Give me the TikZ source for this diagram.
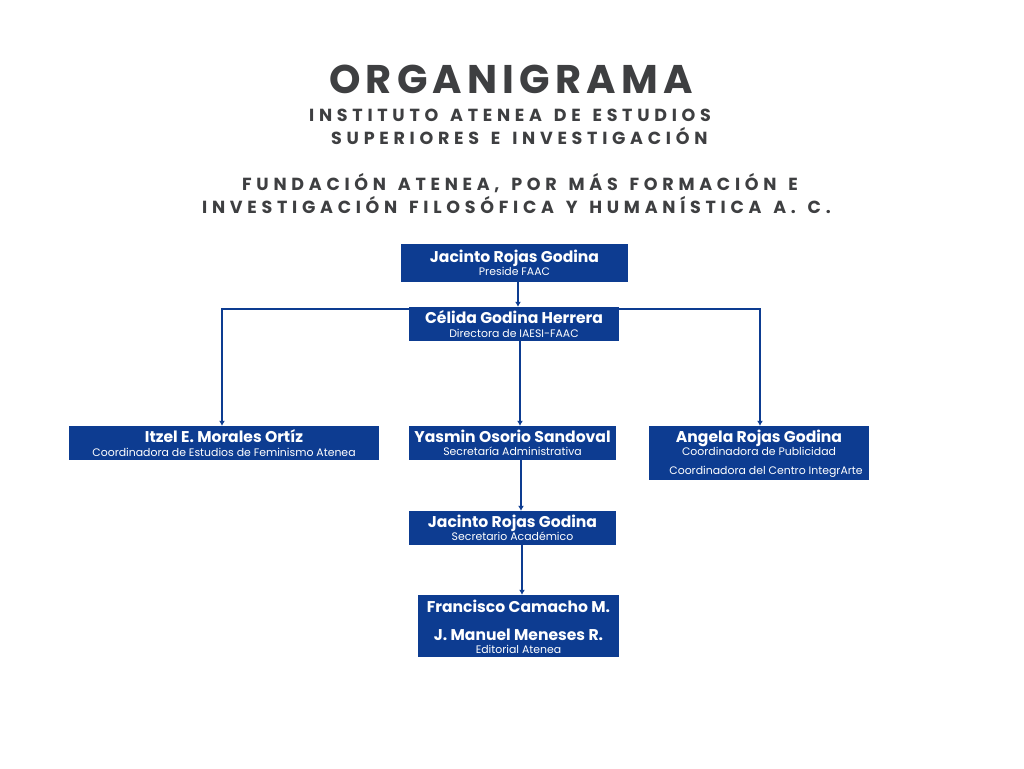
\documentclass[tikz,border=0pt]{standalone}
\usepackage{fontspec}
\setmainfont{Poppins}
\newfontfamily\titlefont[LetterSpace=13]{Poppins}
\newfontfamily\spacedfont[LetterSpace=27,WordSpace=1.4]{Poppins}
\usetikzlibrary{arrows.meta}
\definecolor{boxblue}{RGB}{13,60,145}
\definecolor{titlegray}{RGB}{62,63,65}
\tikzset{
  box/.style={fill=boxblue, draw=none, inner sep=0pt},
  pname/.style={anchor=base, text=white, font=\bfseries\fontsize{15.6}{17}\selectfont, inner sep=0pt},
  prole/.style={anchor=base, text=white, font=\fontsize{10.9}{12}\selectfont, inner sep=0pt},
  head/.style={anchor=base west, text=titlegray, inner sep=0pt, font=\spacedfont\bfseries\fontsize{17.5}{19}\selectfont},
  link/.style={draw=boxblue, line width=1.6pt, -{Latex[length=5pt,width=6pt]}},
}
\begin{document}
\begin{tikzpicture}[x=1pt,y=-1pt]
\useasboundingbox[fill=white] (0,0) rectangle (1024,768);
% titles
\node[anchor=base west, text=titlegray, inner sep=0pt, font=\titlefont\bfseries\fontsize{40}{43}\selectfont] (t0) at (329,93) {ORGANIGRAMA};
\node[head] (t1) at (309,121) {INSTITUTO ATENEA DE ESTUDIOS};
\node[head] (t2) at (331,144) {SUPERIORES E INVESTIGACIÓN};
\node[head] (t3) at (242,190) {FUNDACIÓN ATENEA, POR MÁS FORMACIÓN E};
\node[head] (t4) at (202,213) {INVESTIGACIÓN FILOSÓFICA Y HUMANÍSTICA A. C.};
% boxes
\node[box, minimum width=227, minimum height=38] (b1) at (514.5,263) {};
\node[pname] (b1n) at (514.5,262) {Jacinto Rojas Godina};
\node[prole] (b1r) at (514.5,275) {Preside FAAC};

\node[box, minimum width=210, minimum height=34] (b2) at (514,324) {};
\node[pname] (b2n) at (514,323) {Célida Godina Herrera};
\node[prole] (b2r) at (514,337) {Directora de IAESI-FAAC};

\node[box, minimum width=310, minimum height=34] (b3) at (224,443) {};
\node[pname] (b3n) at (224,442) {Itzel E. Morales Ortíz};
\node[prole] (b3r) at (224,456) {Coordinadora de Estudios de Feminismo Atenea};

\node[box, minimum width=207, minimum height=34] (b4) at (512.5,443) {};
\node[pname] (b4n) at (512.5,442) {Yasmin Osorio Sandoval};
\node[prole] (b4r) at (512.5,455) {Secretaría Administrativa};

\node[box, minimum width=220, minimum height=54] (b5) at (759,453) {};
\node[pname] (b5n) at (759,442) {Angela Rojas Godina};
\node[prole] (b5r) at (759,455) {Coordinadora de Publicidad};
\node[prole] (b5s) at (766,474) {Coordinadora del Centro IntegrArte};

\node[box, minimum width=207, minimum height=34] (b6) at (512.5,528) {};
\node[pname] (b6n) at (512.5,527) {Jacinto Rojas Godina};
\node[prole] (b6r) at (512.5,540) {Secretario Académico};

\node[box, minimum width=201, minimum height=62] (b7) at (518.5,626) {};
\node[pname] (b7n) at (518.5,612) {Francisco Camacho M.};
\node[pname] (b7m) at (518.5,640) {J. Manuel Meneses R.};
\node[prole] (b7r) at (518.5,653) {Editorial Atenea};

% connectors
\draw[link] (b1.south -| 518,0) -- (b2.north -| 518,0);
\draw[link] (b2.south -| 520,0) -- (b4.north -| 520,0);
\draw[link] ([yshift=-2pt]b2.north west) -| (b3.north -| 222,0);
\draw[link] ([yshift=-2pt]b2.north east) -| (b5.north -| 760,0);
\draw[link] (b4.south -| 521,0) -- (b6.north -| 521,0);
\draw[link] (b6.south -| 522,0) -- (b7.north -| 522,0);
\end{tikzpicture}
\end{document}
